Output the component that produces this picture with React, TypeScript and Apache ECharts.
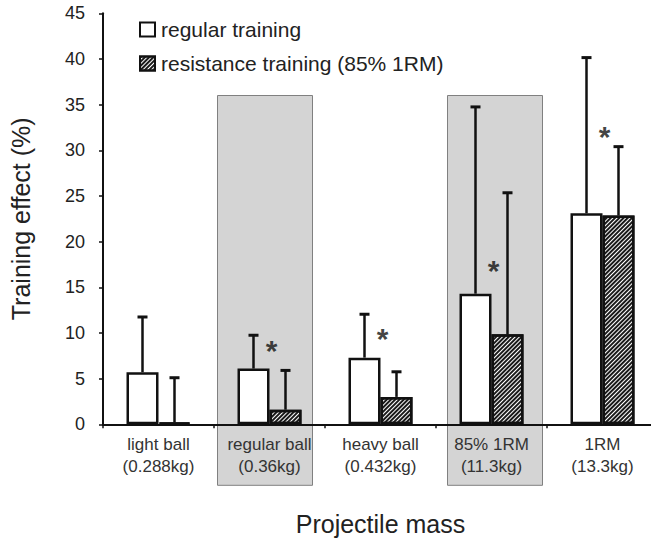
import React, { useEffect, useRef } from "react";
import * as echarts from "echarts";

const categories = [
  "light ball\n(0.288kg)",
  "regular ball\n(0.36kg)",
  "heavy ball\n(0.432kg)",
  "85% 1RM\n(11.3kg)",
  "1RM\n(13.3kg)",
];
const seriesNames = ["regular training", "resistance training (85% 1RM)"];
const regularMean = [5.7, 6.1, 7.3, 14.3, 23.1];
const regularSD = [6.05, 3.65, 4.75, 20.45, 17.05];
const resistMean = [0.2, 1.6, 3.0, 9.85, 22.85];
const resistSD = [4.9, 4.3, 2.75, 15.5, 7.55];
// significance stars: [category index, y value]
const starPoints = [
  [1, 8.5],
  [2, 9.8],
  [3, 17.3],
  [4, 32.0],
];
const shadedCategories = [1, 3];
const shadeTop = 36;
const yTicks = { min: 0, max: 45, interval: 5 };

const FONT = "Liberation Sans, Arial, sans-serif";
const TXT = "#222";
const BAR_W = 32;

export default function App() {
  const ref = useRef<HTMLDivElement>(null);

  useEffect(() => {
    if (!ref.current) return;
    const chart = echarts.init(ref.current, undefined, { renderer: "svg" });

    const errorSeries = (means: number[], sds: number[], dx: number, name: string) => ({
      type: "custom",
      name,
      z: 5,
      data: means.map((m, i) => [i, m, m + sds[i]]),
      renderItem: (params: any, api: any) => {
        const i = api.value(0);
        const lo = api.coord([i, api.value(1)]);
        const hi = api.coord([i, api.value(2)]);
        const x = lo[0] + dx;
        const style = { stroke: "#111", lineWidth: 2.5 };
        return {
          type: "group",
          children: [
            { type: "line", shape: { x1: x, y1: lo[1], x2: x, y2: hi[1] }, style },
            { type: "line", shape: { x1: x - 5, y1: hi[1], x2: x + 5, y2: hi[1] }, style: { stroke: "#111", lineWidth: 3 } },
          ],
        };
      },
    });

    const option: any = {
      animation: false,
      textStyle: { fontFamily: FONT },
      grid: { left: 103, top: 13.3, height: 411, width: 555, outerBoundsMode: "none", containLabel: false },
      legend: {
        data: seriesNames,
        orient: "vertical",
        left: 134,
        top: 14,
        icon: "rect",
        itemWidth: 15,
        itemHeight: 14,
        itemGap: 13,
        textStyle: { fontSize: 21, color: TXT, fontFamily: FONT, padding: [0, 0, 0, 1] },
      },
      xAxis: {
        type: "category",
        data: categories,
        name: "Projectile mass",
        nameLocation: "middle",
        nameGap: 87,
        nameTextStyle: { fontSize: 25, color: TXT, fontFamily: FONT },
        axisLine: { lineStyle: { color: "#111", width: 2 } },
        axisTick: { show: true, length: 4, lineStyle: { color: "#111", width: 1.5 } },
        axisLabel: { fontSize: 17, lineHeight: 22, color: "#333", margin: 9, fontFamily: FONT },
      },
      yAxis: {
        type: "value",
        min: yTicks.min,
        max: yTicks.max,
        interval: yTicks.interval,
        name: "Training effect (%)",
        nameLocation: "middle",
        nameGap: 70,
        nameRotate: 90,
        nameTextStyle: { fontSize: 25, color: TXT, fontFamily: FONT },
        splitLine: { show: false },
        axisLine: { show: true, lineStyle: { color: "#111", width: 2 } },
        axisTick: { show: true, length: 4, lineStyle: { color: "#111", width: 1.5 } },
        axisLabel: { fontSize: 18, color: TXT, margin: 18, fontFamily: FONT },
      },
      series: [
        {
          type: "bar",
          name: seriesNames[0],
          data: regularMean,
          barWidth: BAR_W,
          barGap: "0%",
          itemStyle: { color: "#fff", borderColor: "#111", borderWidth: 2.5 },
        },
        {
          type: "bar",
          name: seriesNames[1],
          data: resistMean,
          barWidth: BAR_W,
          barGap: "0%",
          itemStyle: {
            color: "#fff",
            borderColor: "#111",
            borderWidth: 2.5,
            decal: {
              symbol: "rect",
              symbolSize: 1,
              color: "#1a1a1a",
              dashArrayX: [1, 0],
              dashArrayY: [2, 1],
              rotation: -Math.PI / 4,
            },
          },
        },
        errorSeries(regularMean, regularSD, -BAR_W / 2, "err1"),
        errorSeries(resistMean, resistSD, BAR_W / 2, "err2"),
        {
          type: "scatter",
          name: "stars",
          symbolSize: 0,
          data: starPoints,
          z: 6,
          label: {
            show: true,
            position: "inside",
            formatter: "*",
            fontSize: 30,
            fontWeight: "bold",
            color: "#111",
            fontFamily: FONT,
            offset: [2, 4],
          },
        },
      ],
    };
    chart.setOption(option);

    const axisY = chart.convertToPixel({ yAxisIndex: 0 }, 0) as number;
    const topY = chart.convertToPixel({ yAxisIndex: 0 }, shadeTop) as number;
    const offsets = [-52, -44];
    const boxes = shadedCategories.map((ci, k) => {
      const cx = chart.convertToPixel({ xAxisIndex: 0 }, ci) as number;
      return {
        type: "rect",
        z: -10,
        shape: { x: cx + offsets[k], y: topY, width: 95, height: axisY + 61 - topY },
        style: { fill: "#d4d4d4", stroke: "#808080", lineWidth: 1 },
        silent: true,
      };
    });
    chart.setOption({ graphic: boxes });

    return () => chart.dispose();
  }, []);

  return (
    <div
      ref={ref}
      style={{ position: "absolute", left: 0, top: 0, width: 651, height: 542, background: "#fff" }}
    />
  );
}
